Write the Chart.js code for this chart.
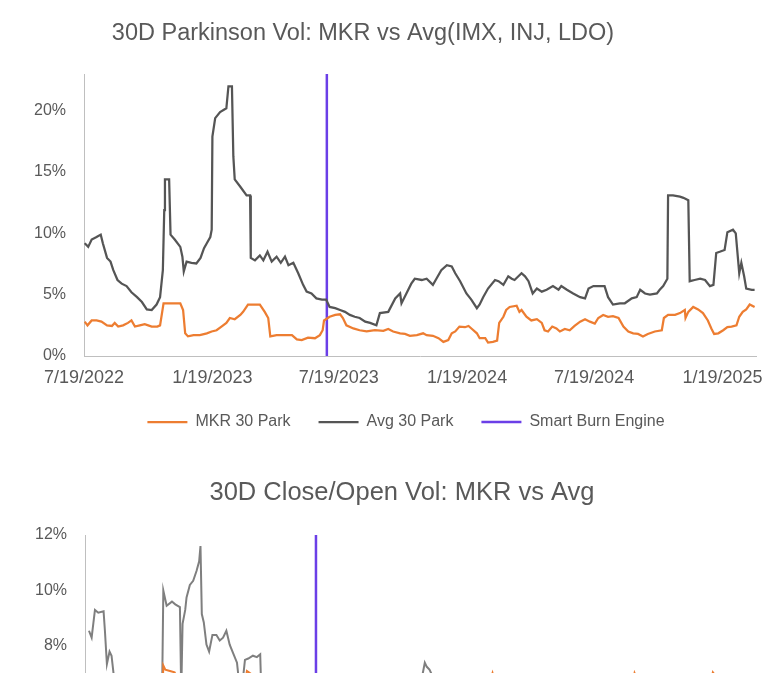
<!DOCTYPE html>
<html>
<head>
<meta charset="utf-8">
<script src="https://cdn.jsdelivr.net/npm/chart.js@4.4.1/dist/chart.umd.min.js"></script>
<style>
  html, body { margin: 0; padding: 0; background: #fff; }
  #page { width: 776px; height: 690px; overflow: hidden; position: relative; }
  .box { position: relative; width: 776px; }
  .crop { width: 776px; height: 213px; overflow: hidden; }
</style>
</head>
<body>
<div id="page">
  <div class="box" style="height:460px"><canvas id="parkChart"></canvas></div>
  <div class="crop">
    <div class="box" style="height:450px"><canvas id="coChart"></canvas></div>
  </div>
</div>
<script>
// x values are days counted from 7/19/2022
const xTickDays = [0, 184, 365, 549, 731, 915];
const xTickLabels = ['7/19/2022', '1/19/2023', '7/19/2023', '1/19/2024', '7/19/2024', '1/19/2025'];
const sbeDay = 348; // Smart Burn Engine launch

const parkTicks = [0, 5, 10, 15, 20];
const coTicks = [0, 2, 4, 6, 8, 10, 12];

// 30D Parkinson vol, %
const avgParkDays = [1,6,11,18,24,27,33,38,42,48,54,61,68,76,83,90,97,104,109,113,115,116,122,124,130,138,141,143,147,154,161,167,172,176,181,183,184,188,195,204,207,212,214,216,224,233,238,239,245,252,257,263,269,276,282,288,293,300,307,314,319,326,333,341,347,352,360,367,374,381,388,395,403,410,419,424,436,446,453,455,462,469,474,484,491,500,505,512,520,527,532,539,548,555,563,567,572,579,589,594,601,608,613,617,627,632,637,643,649,656,663,672,680,684,692,701,711,718,723,730,746,751,758,768,775,785,792,797,804,811,821,825,830,836,837,844,854,859,866,868,875,883,890,897,902,906,911,918,922,930,934,939,942,946,949,957,961];
const avgPark = [9.2,8.9,9.5,9.7,9.9,9.2,8.0,7.7,7.0,6.2,5.9,5.7,5.2,4.8,4.4,3.8,3.75,4.2,4.8,7.0,11.9,14.4,14.4,9.9,9.5,8.9,8.1,6.9,7.7,7.6,7.55,8.0,8.8,9.2,9.7,10.3,17.9,19.4,19.9,20.2,22.0,22.0,16.3,14.4,13.8,13.1,13.1,8.0,7.8,8.2,7.8,8.5,7.7,8.1,7.6,8.1,7.4,7.6,6.75,5.8,5.25,5.1,4.7,4.6,4.6,4.0,3.9,3.75,3.6,3.35,3.2,3.1,2.8,2.7,2.5,3.5,3.6,4.7,5.1,4.3,5.1,5.9,6.3,6.2,6.3,5.8,6.3,7.0,7.4,7.3,6.75,6.1,5.1,4.6,3.9,4.2,4.8,5.5,6.2,6.1,5.8,6.5,6.3,6.2,6.75,6.5,6.1,5.1,5.5,5.25,5.4,5.7,5.4,5.7,5.4,5.1,4.8,4.7,5.5,5.7,5.7,4.8,4.2,4.3,4.3,4.7,4.8,5.4,5.1,5.0,5.1,5.4,5.7,6.3,13.1,13.1,13.0,12.9,12.7,6.1,6.2,6.3,6.2,5.7,5.8,8.4,8.5,8.65,10.1,10.3,10.0,6.75,7.6,6.5,5.5,5.4,5.4];

const mkrParkDays = [1,5,11,18,25,33,40,44,49,56,63,68,73,80,87,92,97,105,109,114,138,142,145,149,157,166,176,183,190,197,204,209,216,224,228,235,252,259,264,267,276,286,298,305,312,321,331,338,342,344,352,360,367,371,376,386,395,405,417,429,436,443,453,460,467,477,486,491,500,508,515,522,527,532,538,546,551,556,563,567,575,579,586,592,595,601,605,610,620,624,627,634,641,649,656,660,665,671,677,682,689,696,703,711,718,725,732,737,744,751,758,766,773,780,787,794,801,808,818,828,831,837,847,854,861,862,866,873,880,887,894,899,903,909,916,922,928,935,939,944,949,954,961];
const mkrPark = [2.8,2.5,2.9,2.9,2.8,2.5,2.45,2.7,2.4,2.5,2.7,2.9,2.4,2.5,2.6,2.5,2.4,2.4,2.5,4.3,4.3,3.75,1.85,1.6,1.7,1.7,1.85,2.0,2.1,2.4,2.7,3.1,3.0,3.35,3.6,4.2,4.2,3.6,3.1,1.6,1.7,1.7,1.7,1.35,1.3,1.5,1.45,1.7,2.1,2.9,3.2,3.35,3.4,3.1,2.5,2.25,2.1,2.0,2.1,2.05,2.2,2.0,1.85,1.8,1.65,1.7,1.85,1.7,1.65,1.45,1.15,1.3,1.85,2.0,2.4,2.35,2.45,2.2,1.85,1.45,1.45,1.1,1.15,1.25,2.7,3.2,3.75,4.0,4.1,3.6,3.75,3.2,2.9,3.0,2.7,2.1,2.0,2.4,2.25,2.0,2.2,2.1,2.45,2.8,3.0,2.8,2.65,3.1,3.35,3.2,3.25,3.1,2.4,2.0,1.85,1.8,1.6,1.8,2.0,2.1,3.1,3.35,3.35,3.5,3.75,3.1,3.6,4.0,3.8,3.5,2.9,2.25,1.8,1.85,2.1,2.35,2.4,2.5,3.2,3.6,3.8,4.2,4.0];

// 30D close/open vol, % (only the top of this chart is visible)
const avgCoDays = [6,10,15,20,28,30,33,37,40,44,55,70,85,100,110,116,118,123,131,136,143,145,147,151,153,158,163,168,172,174,176,179,183,187,192,198,203,208,213,218,223,229,233,237,241,246,253,259,264,266,290,320,350,380,420,450,480,500,508,512,515,519,524,545,570,600,630,660,700,740,770,800,830,845,865,880,910,930,950,963];
const avgCo = [8.55,8.3,9.3,9.2,9.25,8.55,7.35,7.8,7.65,6.8,5.9,5.2,4.6,4.2,4.8,6.0,10.0,9.45,9.6,9.5,9.4,6.3,8.8,9.3,9.75,10.2,10.35,10.7,11.05,11.6,9.15,8.85,8.05,7.8,8.4,8.4,8.2,8.3,8.55,8.05,7.75,7.4,6.5,6.6,7.5,7.55,7.65,7.6,7.7,6.0,5.6,4.8,4.0,3.4,2.8,3.8,5.0,6.2,6.9,7.4,7.25,7.15,6.9,5.2,4.4,5.4,5.6,5.0,4.6,4.8,3.9,4.3,5.0,6.2,6.0,5.2,5.8,6.5,5.0,4.8];

const mkrCoDays = [6,30,60,90,112,117,118,121,128,135,140,144,170,200,225,236,244,250,258,270,300,340,370,400,450,500,560,600,614,630,680,720,760,800,828,850,880,920,946,963];
const mkrCo = [3.2,3.4,3.0,3.1,3.0,6.5,7.3,7.15,7.1,7.05,6.8,3.5,3.0,3.6,4.5,6.0,7.1,7.0,5.5,3.0,2.5,3.8,4.6,3.5,3.0,2.8,4.8,6.0,7.03,5.6,4.2,5.0,3.8,4.0,7.03,5.8,6.2,4.5,7.05,6.5];

const FONT = "'Liberation Sans', Arial, sans-serif";
const TEXT = '#595959';
const AXIS = '#bfbfbf';
const ORANGE = '#ED7D31';
const PURPLE = '#6B3FE7';

Chart.defaults.font.family = FONT;
Chart.defaults.color = TEXT;

function zip(days, vals) {
    return days.map((d, i) => ({ x: d, y: vals[i] }));
}

// chart title drawn at a fixed spot (the source titles are not centred on the canvas)
const titleAt = {
    id: 'titleAt',
    afterDraw(chart, args, opts) {
        const ctx = chart.ctx;
        ctx.save();
        ctx.font = opts.size + 'px ' + FONT;
        ctx.fillStyle = TEXT;
        ctx.textAlign = 'center';
        ctx.textBaseline = 'middle';
        ctx.fillText(opts.text, opts.x, opts.y);
        ctx.restore();
    }
};

function makeScales(xMax, yMax, yTicks, yWidth) {
    return {
        x: {
            type: 'linear',
            min: 0,
            max: xMax,
            grid: { display: false, drawTicks: false },
            border: { display: true, color: AXIS, width: 1 },
            afterBuildTicks: scale => { scale.ticks = xTickDays.map(v => ({ value: v })); },
            afterFit: scale => { scale.height = 30; },
            ticks: {
                autoSkip: false,
                maxRotation: 0,
                padding: 11,
                font: { size: 18 },
                color: TEXT,
                callback: v => xTickLabels[xTickDays.indexOf(v)]
            }
        },
        y: {
            min: 0,
            max: yMax,
            grid: { display: false, drawTicks: false },
            border: { display: true, color: AXIS, width: 1 },
            afterBuildTicks: scale => { scale.ticks = yTicks.map(v => ({ value: v })); },
            afterFit: scale => { scale.width = yWidth; },
            // mirrored so the labels may stick out left of the narrow axis box
            ticks: {
                mirror: true,
                crossAlign: 'far',
                padding: -50,
                font: { size: 16 },
                color: TEXT,
                callback: v => v + '%'
            }
        }
    };
}

function lineSet(label, data, color, width) {
    return {
        label: label,
        data: data,
        borderColor: color,
        backgroundColor: color,
        borderWidth: width,
        pointRadius: 0,
        tension: 0,
        fill: false
    };
}

new Chart(document.getElementById('parkChart'), {
    type: 'line',
    data: {
        datasets: [
            lineSet('MKR 30 Park', zip(mkrParkDays, mkrPark), ORANGE, 2.25),
            lineSet('Avg 30 Park', zip(avgParkDays, avgPark), '#555555', 2.25),
            lineSet('Smart Burn Engine', [{ x: sbeDay, y: 0 }, { x: sbeDay, y: 23 }], PURPLE, 2.5)
        ]
    },
    options: {
        responsive: true,
        maintainAspectRatio: false,
        animation: false,
        layout: { padding: { top: 74, left: 56, right: 20, bottom: 20 } },
        scales: makeScales(963, 23, parkTicks, 28),
        plugins: {
            tooltip: { enabled: false },
            legend: {
                position: 'bottom',
                align: 'center',
                labels: {
                    usePointStyle: true,
                    pointStyle: 'line',
                    pointStyleWidth: 40,
                    padding: 28,
                    color: TEXT,
                    font: { size: 16 }
                }
            },
            titleAt: { text: '30D Parkinson Vol: MKR vs Avg(IMX, INJ, LDO)', x: 363, y: 34, size: 23.5 }
        }
    },
    plugins: [titleAt]
});

new Chart(document.getElementById('coChart'), {
    type: 'line',
    data: {
        datasets: [
            lineSet('MKR 30 C/O', zip(mkrCoDays, mkrCo), ORANGE, 2),
            lineSet('Avg 30 C/O', zip(avgCoDays, avgCo), '#7F7F7F', 2),
            lineSet('Smart Burn Engine', [{ x: sbeDay, y: 0 }, { x: sbeDay, y: 12 }], PURPLE, 2.5)
        ]
    },
    options: {
        responsive: true,
        maintainAspectRatio: false,
        animation: false,
        layout: { padding: { top: 75, left: 56, right: 20, bottom: 12 } },
        scales: makeScales(1011, 12, coTicks, 29),
        plugins: {
            tooltip: { enabled: false },
            legend: { display: false },
            titleAt: { text: '30D Close/Open Vol: MKR vs Avg', x: 402, y: 33, size: 25.5 }
        }
    },
    plugins: [titleAt]
});
</script>
</body>
</html>
